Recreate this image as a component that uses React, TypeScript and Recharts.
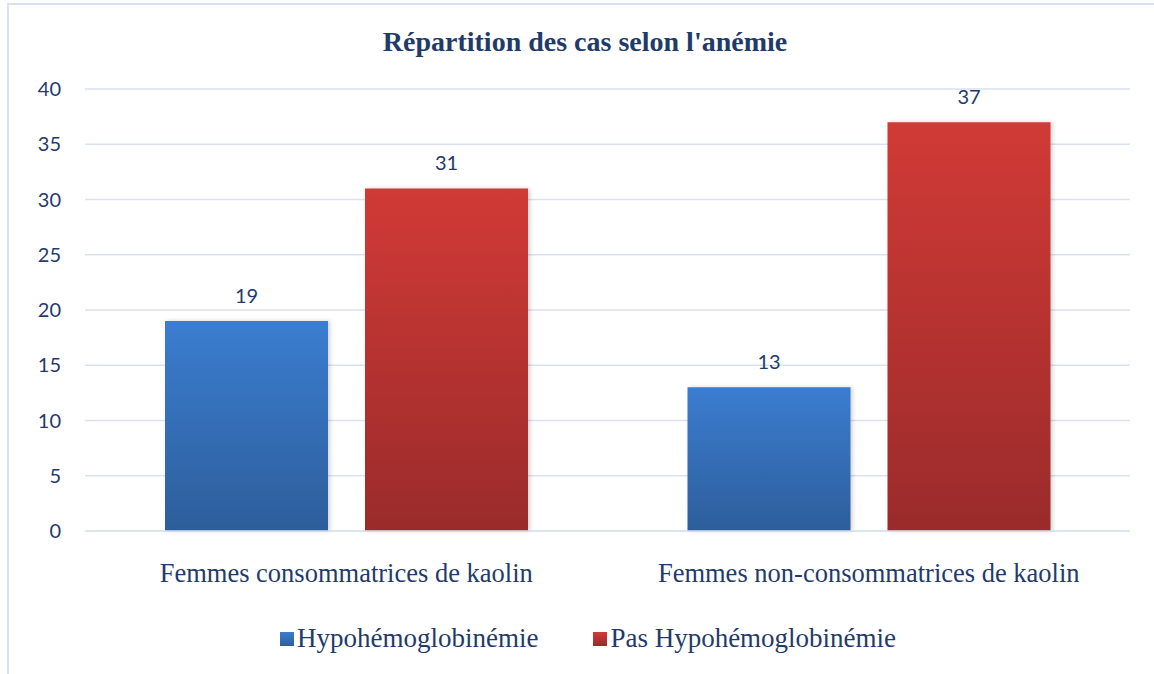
import React from 'react';
import { BarChart, Bar, XAxis, YAxis, CartesianGrid, Legend, LabelList } from 'recharts';

const categories = ['Femmes consommatrices de kaolin', 'Femmes non-consommatrices de kaolin'];
const hypo = [19, 13];
const pasHypo = [31, 37];
const yTicks = [0, 5, 10, 15, 20, 25, 30, 35, 40];

const seriesNames = { hypo: 'Hypohémoglobinémie', pasHypo: 'Pas Hypohémoglobinémie' };

const data = categories.map((name, i) => ({ name, hypo: hypo[i], pasHypo: pasHypo[i] }));

const textColor = '#1f3b6b';
const gridColor = '#d9e2f1';

const LegendContent = () => (
  <div style={{ display: 'flex', justifyContent: 'center', alignItems: 'center', gap: 55, fontFamily: '"Liberation Serif", serif', fontSize: 27, color: textColor, height: 60, paddingLeft: 46, paddingTop: 3, boxSizing: 'border-box' }}>
    <span style={{ display: 'flex', alignItems: 'center' }}>
      <span style={{ width: 14, height: 14, marginRight: 3, background: 'linear-gradient(#3b7dd0, #2d5e9b)' }} />
      {seriesNames.hypo}
    </span>
    <span style={{ display: 'flex', alignItems: 'center' }}>
      <span style={{ width: 14, height: 14, marginRight: 3, background: 'linear-gradient(#d13a36, #9a2b2b)' }} />
      {seriesNames.pasHypo}
    </span>
  </div>
);

export default function App() {
  return (
    <div style={{ position: 'absolute', left: 0, top: 0, width: 1154, height: 674, overflow: 'hidden', background: '#fff' }}>
      <div style={{ position: 'absolute', left: 7, top: 3, width: 1200, height: 700, border: `2px solid ${gridColor}` }} />
      <div style={{ position: 'absolute', left: 0, width: 1170, top: 26, textAlign: 'center', fontFamily: '"Liberation Serif", serif', fontWeight: 'bold', fontSize: 28, color: textColor }}>
        Répartition des cas selon l'anémie
      </div>
      <div style={{ position: 'absolute', left: 0, top: 0 }}>
        <BarChart width={1154} height={674} data={data} margin={{ top: 89, right: 24, left: 0, bottom: 7 }} barGap={37} barCategoryGap={80}>
          <defs>
            <linearGradient id="gBlue" x1="0" y1="0" x2="0" y2="1">
              <stop offset="0%" stopColor="#3b7dd0" />
              <stop offset="100%" stopColor="#2d5e9b" />
            </linearGradient>
            <linearGradient id="gRed" x1="0" y1="0" x2="0" y2="1">
              <stop offset="0%" stopColor="#d13a36" />
              <stop offset="100%" stopColor="#9a2b2b" />
            </linearGradient>
          </defs>
          <CartesianGrid vertical={false} stroke={gridColor} strokeWidth={1.5} />
          <XAxis
            dataKey="name"
            height={76}
            axisLine={{ stroke: gridColor, strokeWidth: 1.5 }}
            tickLine={false}
            tickMargin={26}
            tick={{ fontFamily: '"Liberation Serif", serif', fontSize: 26.5, fill: textColor }}
          />
          <YAxis
            width={85}
            domain={[0, 40]}
            ticks={yTicks}
            axisLine={false}
            tickLine={false}
            tickSize={0}
            tickMargin={24}
            tick={{ fontFamily: 'Lato, sans-serif', fontSize: 20, fill: textColor }}
          />
          <Legend verticalAlign="bottom" height={60} content={<LegendContent />} />
          <Bar dataKey="hypo" name={seriesNames.hypo} fill="url(#gBlue)" isAnimationActive={false} style={{ filter: 'drop-shadow(2px 0px 2px rgba(0,0,0,0.18))' }}>
            <LabelList dataKey="hypo" position="top" offset={18} style={{ fontFamily: 'Lato, sans-serif', fontSize: 20, fill: textColor }} />
          </Bar>
          <Bar dataKey="pasHypo" name={seriesNames.pasHypo} fill="url(#gRed)" isAnimationActive={false} style={{ filter: 'drop-shadow(2px 0px 2px rgba(0,0,0,0.18))' }}>
            <LabelList dataKey="pasHypo" position="top" offset={18} style={{ fontFamily: 'Lato, sans-serif', fontSize: 20, fill: textColor }} />
          </Bar>
        </BarChart>
      </div>
    </div>
  );
}
